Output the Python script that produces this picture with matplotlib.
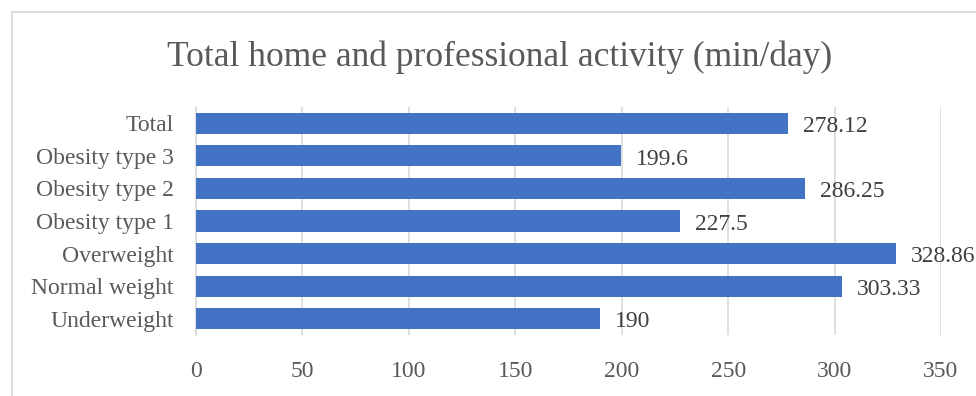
import matplotlib.pyplot as plt
from matplotlib.patches import Rectangle

categories = ['Underweight', 'Normal weight', 'Overweight', 'Obesity type 1',
              'Obesity type 2', 'Obesity type 3', 'Total']
values = [190, 303.33, 328.86, 227.5, 286.25, 199.6, 278.12]
labels = ['190', '303.33', '328.86', '227.5', '286.25', '199.6', '278.12']
xticks = [0, 50, 100, 150, 200, 250, 300, 350]

plt.rcParams['font.family'] = ['Liberation Serif', 'DejaVu Serif']

fig = plt.figure(figsize=(9.76, 3.96), dpi=100)
# outer chart frame (cropped on right and bottom)
fig.patches.append(Rectangle((12 / 976, -0.1), 1.2, 1 - 12 / 396 + 0.1,
                             transform=fig.transFigure, fill=False,
                             edgecolor='#d9d9d9', linewidth=1.3))

ax = fig.add_axes([196 / 976, 1 - 335 / 396, 745 / 976, 228 / 396])
pos = range(len(categories))
ax.barh(pos, values, height=0.65, color='#4472c4', zorder=3)
for y, v, t in zip(pos, values, labels):
    ax.text(v + 7, y - 0.1, t, va='center', ha='left', fontsize=17,
            color='#404040', clip_on=False)

ax.set_xlim(0, 350)
ax.set_ylim(-0.5, 6.5)
ax.set_xticks(xticks)
ax.set_yticks(list(pos))
ax.set_yticklabels(categories)
ax.tick_params(axis='both', length=0, labelsize=17, colors='#595959')
ax.tick_params(axis='x', pad=19)
ax.tick_params(axis='y', pad=16)
ax.grid(axis='x', color='#d9d9d9', linewidth=1.2, zorder=0)
for s in ['top', 'right', 'bottom']:
    ax.spines[s].set_visible(False)
ax.spines['left'].set_color('#d9d9d9')
ax.spines['left'].set_linewidth(1.2)

fig.text(500 / 976, 1 - 57 / 396, 'Total home and professional activity (min/day)',
         ha='center', va='center', fontsize=25.5, color='#595959')

fig.savefig('out.png', dpi=100)
